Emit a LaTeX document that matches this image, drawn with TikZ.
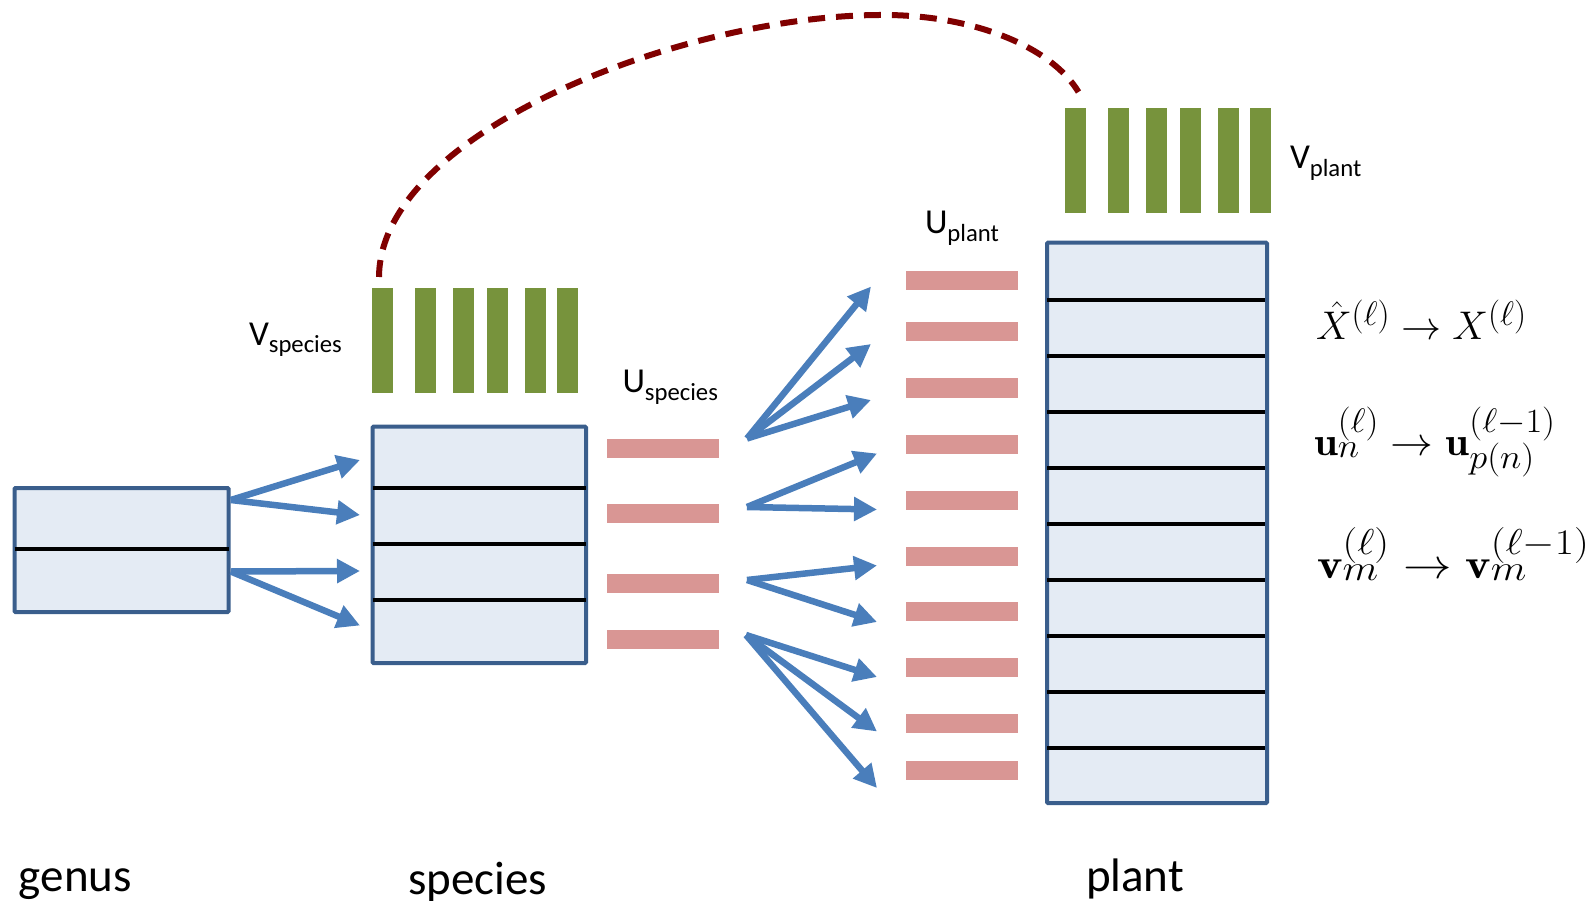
\RequirePackage{fix-cm}
\documentclass[tikz,border=0pt]{standalone}
\usepackage{fontspec}
\usepackage{graphicx}
\newfontfamily\calibri{Carlito}
\usetikzlibrary{arrows.meta}

% large scripts for the update rules
\DeclareMathSizes{40}{40}{34}{26}
\DeclareMathSizes{42}{42}{36}{27}

\definecolor{boxfill}{HTML}{E4EBF4}
\definecolor{boxline}{HTML}{3A5E8C}
\definecolor{arrowblue}{HTML}{4A7EBB}
\definecolor{barpink}{HTML}{D99694}
\definecolor{bargreen}{HTML}{77933C}
\definecolor{linkred}{HTML}{800000}

% label with a lowered subscript word, e.g. V_species
\newcommand\sublbl[2]{{\calibri\fontsize{35}{40}\selectfont #1\raisebox{-8pt}{\fontsize{24.7}{28}\selectfont #2}}}

\tikzset{
  table/.style={draw=boxline, fill=boxfill, line width=4pt, inner sep=0pt, outer sep=0pt, rounded corners=1pt},
  divider/.style={draw=black, line width=4pt},
  vbar/.style={fill=bargreen, inner sep=0pt, outer sep=0pt, minimum width=21pt, minimum height=105pt},
  ubar/.style={fill=barpink, inner sep=0pt, outer sep=0pt, minimum width=112pt, minimum height=19pt},
  arr/.style={draw=arrowblue, line width=6.5pt, -{Triangle[length=23pt,width=23pt]}},
  link/.style={draw=linkred, line width=6pt, dash pattern=on 17pt off 11pt},
  lbl/.style={anchor=base west, inner sep=0pt, outer sep=0pt},
  biglbl/.style={lbl, font=\calibri\fontsize{47}{56}\selectfont},
  mathlbl/.style={lbl, font=\fontsize{40}{48}\selectfont}
}

\begin{document}
\begin{tikzpicture}[x=1pt,y=-1pt]
\useasboundingbox (0,0) rectangle (1591,901);

% ---- tables ----
\node[table, minimum width=214pt, minimum height=124pt] (genus) at (121.5,550) {};
\draw[divider] (14.5,549) -- (228.5,549);

\node[table, minimum width=213.5pt, minimum height=236.3pt] (species) at (479.25,544.85) {};
\foreach \y in {487.7,543.7,599.7}
  \draw[divider] (372.5,\y) -- (586,\y);

\node[table, minimum width=220pt, minimum height=560.3pt] (plant) at (1157,522.85) {};
\foreach \k in {0,...,8}
  \draw[divider] (1047,300.5+55.9*\k) -- (1265,300.5+55.9*\k);

% ---- V bars ----
\foreach \x [count=\i] in {382.5,425.5,463.5,497.5,535.5,567.5}
  \node[vbar] (vs\i) at (\x,340.5) {};
\foreach \x [count=\i] in {1075.5,1118.5,1156.5,1190.5,1228.5,1260.5}
  \node[vbar] (vp\i) at (\x,160.5) {};

% ---- U bars ----
\foreach \y [count=\i] in {448,513,583,639}
  \node[ubar] (us\i) at (663,\y) {};
\foreach \y [count=\i] in {281,332,388,444,500,556,611,667,723,770}
  \node[ubar] (up\i) at (962,\y) {};

% ---- arrows genus -> species ----
\coordinate (ga) at (230.8,500);
\coordinate (gb) at (230.8,571.5);
\coordinate (s1) at (360,460);
\coordinate (s2) at (360,515);
\coordinate (s3) at (360,571);
\coordinate (s4) at (360,625.5);
\draw[arr] (ga) -- (s1);
\draw[arr] (ga) -- (s2);
\draw[arr] (gb) -- (s3);
\draw[arr] (gb) -- (s4);

% ---- arrows species rows -> plant rows ----
\coordinate (oa) at (747,438.5);
\coordinate (ob) at (747,507);
\coordinate (oc) at (747,580);
\coordinate (od) at (746,635);
\coordinate (p1) at (871,286.5);
\coordinate (p2) at (871,344);
\coordinate (p3) at (871,400);
\coordinate (p4) at (877,453.5);
\coordinate (p5) at (877,509.5);
\coordinate (p6) at (877,565.5);
\coordinate (p7) at (877,622);
\coordinate (p8) at (877,677);
\coordinate (p9) at (877,731.5);
\coordinate (p10) at (877,788);
\foreach \t in {p1,p2,p3} \draw[arr] (oa) -- (\t);
\foreach \t in {p4,p5} \draw[arr] (ob) -- (\t);
\foreach \t in {p6,p7} \draw[arr] (oc) -- (\t);
\foreach \t in {p8,p9,p10} \draw[arr] (od) -- (\t);

% ---- dashed link between the two V blocks ----
\coordinate (la) at (379,277);
\coordinate (lb) at (1078.5,92);
\draw[link] (la) .. controls (380,130) and (690,14) .. (884,15)
                 .. controls (970,15) and (1050,45) .. (lb);

% ---- labels ----
\node[lbl] (lvs) at (249,345) {\sublbl{V}{species}};
\node[lbl] (lus) at (622.5,392.6) {\sublbl{U}{species}};
\node[lbl] (lup) at (925,233.3) {\sublbl{U}{plant}};
\node[lbl] (lvp) at (1290,168.3) {\sublbl{V}{plant}};

\node[biglbl] (lgenus) at (19,891) {genus};
\node[biglbl] (lspecies) at (408,894) {species};
\node[biglbl] (lplant) at (1086,891.5) {plant};

% ---- update rules ----
\node[mathlbl] (m1) at (1316,340) {$\hat{X}^{(\ell)} \rightarrow X^{(\ell)}$};
\node[mathlbl] (m2) at (1314,455)
  {\scalebox{1.07}[1]{$\mathbf{u}_n^{(\ell)} \rightarrow \mathbf{u}_{p(n)}^{(\ell-1)}$}};
\node[mathlbl, font=\fontsize{42}{50}\selectfont] (m3) at (1317,578)
  {\scalebox{1.155}[1]{$\mathbf{v}_m^{(\ell)} \rightarrow \mathbf{v}_m^{(\ell-1)}$}};
\end{tikzpicture}
\end{document}
